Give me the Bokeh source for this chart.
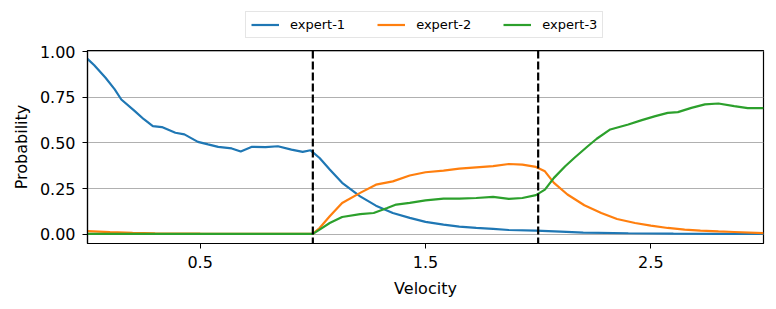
from bokeh.plotting import figure
from bokeh.layouts import column
from bokeh.models import FixedTicker, NumeralTickFormatter, Legend, LegendItem, Span, Range1d
from bokeh.embed import file_html
from bokeh.resources import INLINE

# ---- data ----
e1_v = [0.00, 0.03, 0.08, 0.12, 0.15, 0.21, 0.25, 0.29, 0.33, 0.39, 0.43, 0.49, 0.535, 0.58,
        0.64, 0.68, 0.73, 0.79, 0.845, 0.905, 0.955, 0.99, 1.03, 1.075, 1.13, 1.21, 1.28,
        1.355, 1.43, 1.50, 1.58, 1.65, 1.725, 1.80, 1.87, 1.99, 2.10, 2.20, 2.40, 2.60, 2.80, 3.00]
e1_p = [0.96, 0.925, 0.857, 0.795, 0.738, 0.674, 0.63, 0.592, 0.587, 0.556, 0.547, 0.506, 0.492,
        0.479, 0.47, 0.453, 0.479, 0.477, 0.482, 0.464, 0.451, 0.46, 0.418, 0.355, 0.282, 0.208,
        0.157, 0.117, 0.09, 0.068, 0.053, 0.042, 0.035, 0.03, 0.024, 0.02, 0.015, 0.01, 0.006,
        0.004, 0.003, 0.002]

e2_v = [0.00, 0.10, 0.20, 0.30, 0.50, 0.70, 1.00, 1.03, 1.075, 1.13, 1.21, 1.28, 1.355, 1.43,
        1.50, 1.58, 1.65, 1.725, 1.80, 1.87, 1.93, 1.99, 2.03, 2.07, 2.13, 2.205, 2.28, 2.35,
        2.43, 2.50, 2.575, 2.65, 2.72, 2.80, 2.87, 3.00]
e2_p = [0.018, 0.012, 0.008, 0.006, 0.004, 0.003, 0.003, 0.035, 0.099, 0.172, 0.227, 0.272,
        0.29, 0.322, 0.34, 0.349, 0.36, 0.367, 0.373, 0.385, 0.382, 0.369, 0.345, 0.282, 0.218,
        0.159, 0.117, 0.084, 0.062, 0.048, 0.035, 0.026, 0.02, 0.016, 0.013, 0.007]

e3_v = [0.00, 1.00, 1.03, 1.075, 1.13, 1.21, 1.27, 1.33, 1.37, 1.43, 1.50, 1.58, 1.65, 1.725,
        1.80, 1.87, 1.93, 1.99, 2.03, 2.07, 2.12, 2.16, 2.22, 2.26, 2.32, 2.40, 2.46, 2.52,
        2.575, 2.62, 2.68, 2.74, 2.80, 2.87, 2.93, 3.00]
e3_p = [0.003, 0.003, 0.026, 0.062, 0.095, 0.111, 0.117, 0.144, 0.163, 0.172, 0.186, 0.196,
        0.196, 0.199, 0.205, 0.194, 0.199, 0.215, 0.245, 0.309, 0.373, 0.418, 0.482, 0.523,
        0.574, 0.601, 0.625, 0.647, 0.665, 0.669, 0.692, 0.711, 0.716, 0.702, 0.691, 0.691]

series_names = ["expert-1", "expert-2", "expert-3"]
series_colors = ["#1f77b4", "#ff7f0e", "#2ca02c"]
boundaries = [1.0, 2.0]
x_ticks = [0.5, 1.5, 2.5]
y_ticks = [0.0, 0.25, 0.5, 0.75, 1.0]

FONT = "DejaVu Sans"
NAN = float("nan")

# ---- legend strip (separate small figure above the plot) ----
leg = figure(width=767, height=40, output_backend="svg", toolbar_location=None,
             x_range=Range1d(0, 1), y_range=Range1d(0, 1),
             min_border_left=0, min_border_right=0, min_border_top=0, min_border_bottom=0)
leg.axis.visible = False
leg.grid.visible = False
leg.outline_line_color = None
# legend-only renderers (hold no visible points)
leg_renderers = [leg.line(x=[NAN], y=[NAN], line_color=c, line_width=2.2) for c in series_colors]
legend = Legend(items=[LegendItem(label=n, renderers=[r]) for n, r in zip(series_names, leg_renderers)],
                orientation="horizontal", location=(158, 2),
                label_text_font=FONT, label_text_font_size="13px", label_text_color="black",
                glyph_width=28, glyph_height=15, label_height=15,
                label_standoff=11, spacing=32, padding=5, margin=0,
                border_line_color="#cccccc", border_line_width=1,
                background_fill_color="white", background_fill_alpha=1.0)
leg.add_layout(legend, "center")

# ---- main plot ----
p_main = figure(width=767, height=262, output_backend="svg", toolbar_location=None,
                x_range=Range1d(0, 3), y_range=Range1d(-0.05, 1.006),
                min_border_left=87, min_border_right=4, min_border_top=10, min_border_bottom=59)

p_main.outline_line_color = "black"
p_main.outline_line_width = 1.2

p_main.xgrid.visible = False
p_main.ygrid.grid_line_color = "#b0b0b0"
p_main.ygrid.grid_line_width = 1.2
p_main.ygrid.ticker = FixedTicker(ticks=y_ticks)

p_main.xaxis.ticker = FixedTicker(ticks=x_ticks)
p_main.yaxis.ticker = FixedTicker(ticks=y_ticks)
p_main.xaxis.formatter = NumeralTickFormatter(format="0.0")
p_main.yaxis.formatter = NumeralTickFormatter(format="0.00")
for ax in (p_main.xaxis, p_main.yaxis):
    ax.major_label_text_font = FONT
    ax.major_label_text_font_size = "16px"
    ax.major_label_text_color = "black"
    ax.axis_label_text_font = FONT
    ax.axis_label_text_font_size = "16px"
    ax.axis_label_text_font_style = "normal"
    ax.axis_label_text_color = "black"
    ax.major_tick_out = 5
    ax.major_tick_in = 0
    ax.minor_tick_out = 0
    ax.minor_tick_in = 0
    ax.major_tick_line_color = "black"
    ax.axis_line_color = "black"
    ax.axis_line_width = 1.2
p_main.xaxis.axis_label = "Velocity"
p_main.yaxis.axis_label = "Probability"
p_main.xaxis.major_label_standoff = 7
p_main.yaxis.major_label_standoff = 7
p_main.xaxis.axis_label_standoff = 8
p_main.yaxis.axis_label_standoff = 6

p_main.line(e1_v, e1_p, line_color=series_colors[0], line_width=2.2)
p_main.line(e2_v, e2_p, line_color=series_colors[1], line_width=2.2)
p_main.line(e3_v, e3_p, line_color=series_colors[2], line_width=2.2)

for b in boundaries:
    p_main.add_layout(Span(location=b, dimension="height", line_color="black",
                           line_width=2.2, line_dash="8 3"))

p = column(leg, p_main, spacing=0)

open("out.html", "w").write(file_html(p, INLINE))
